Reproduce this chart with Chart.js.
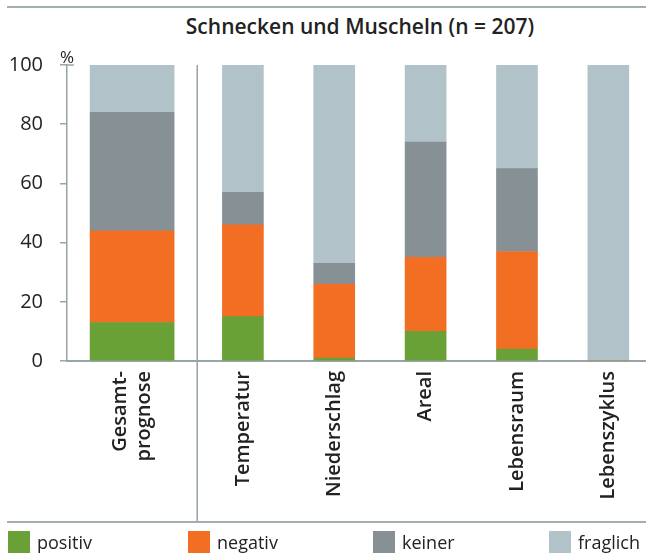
<!DOCTYPE html>
<html>
<head>
<meta charset="utf-8">
<script src="https://cdn.jsdelivr.net/npm/chart.js@4.4.1/dist/chart.umd.min.js"></script>
<style>
  html, body { margin: 0; padding: 0; background: #fff; overflow: hidden; }
  body { width: 646px; height: 556px; position: relative; font-family: "Open Sans", sans-serif; color: #222; }
  #wrap { position: absolute; left: 0; top: 0; width: 654px; height: 556px; }
  .rule { position: absolute; left: 7px; width: 639px; height: 2px; background: #a3aeb2; }
  #title { position: absolute; top: 16px; left: 74px; width: 572px; line-height: 20px; text-align: center; font-size: 21px; font-weight: 600; }
  .legend-item { position: absolute; top: 531px; height: 22px; line-height: 22px; font-size: 18px; display: flex; align-items: center; }
  .legend-item i { display: inline-block; width: 22px; height: 22px; margin-right: 7px; }
</style>
</head>
<body>
<div class="rule" style="top:6px"></div>
<div id="title">Schnecken und Muscheln (n = 207)</div>
<div id="wrap"><canvas id="chart" width="654" height="556"></canvas></div>
<div class="rule" style="top:521px"></div>
<div id="legend"></div>

<script>
// first entry is the Gesamtprognose, the rest are the single factors
const overallLabels = [['Gesamt-', 'prognose']];
const factorLabels = ['Temperatur', 'Niederschlag', 'Areal', 'Lebensraum', 'Lebenszyklus'];

const positiv  = [13, 15, 1, 10, 4, 0];
const negativ  = [31, 31, 25, 25, 33, 0];
const keiner   = [40, 11, 7, 39, 28, 0];
const fraglich = [16, 43, 67, 26, 35, 100];

const yTicks = [0, 20, 40, 60, 80, 100];

const seriesNames = ['positiv', 'negativ', 'keiner', 'fraglich'];
const seriesColors = ['#69a136', '#f26e23', '#869095', '#b1c3c8'];
const axisColor = '#98a4a8';

const seriesValues = [positiv, negativ, keiner, fraglich];

// each series is split: one bar on the overall axis, five on the factor axis
const datasets = [];
seriesValues.forEach((values, i) => {
    datasets.push({
        label: seriesNames[i],
        data: values.slice(0, 1),
        backgroundColor: seriesColors[i],
        xAxisID: 'xG',
        grouped: false,
        barThickness: 84
    });
    datasets.push({
        label: seriesNames[i],
        data: values.slice(1),
        backgroundColor: seriesColors[i],
        xAxisID: 'xR',
        grouped: false,
        barThickness: 41
    });
});

const tickFont = { family: 'Open Sans', size: 20, weight: '600' };

function xScale(labels, weight, labelOffset) {
    return {
        type: 'category',
        labels: labels,
        position: 'bottom',
        stack: 'x',
        stackWeight: weight,
        stacked: true,
        grid: { display: false, drawTicks: false },
        border: { display: true, color: axisColor, width: 2 },
        ticks: {
            autoSkip: false,
            minRotation: 90,
            maxRotation: 90,
            padding: 10,
            labelOffset: labelOffset,
            color: '#222',
            font: tickFont
        },
        afterFit(scale) {
            scale.height = 195;
            scale.paddingLeft = 0;
            scale.paddingRight = 0;
        }
    };
}

// divider between overall and factors, T-cap at 100 and the unit
const extras = {
    id: 'extras',
    afterDraw(chart) {
        const { ctx, scales } = chart;
        const top = scales.y.getPixelForValue(yTicks[yTicks.length - 1]);
        const x0 = scales.y.right;
        ctx.save();
        ctx.strokeStyle = axisColor;
        ctx.lineWidth = 1.5;
        ctx.beginPath();
        ctx.moveTo(scales.xG.right, top);
        ctx.lineTo(scales.xG.right, 522);
        ctx.stroke();
        ctx.beginPath();
        ctx.moveTo(x0, top);
        ctx.lineTo(x0 + 7, top);
        ctx.stroke();
        ctx.fillStyle = '#222';
        ctx.font = '17px "Open Sans"';
        ctx.textAlign = 'center';
        ctx.fillText('%', x0, top - 2);
        ctx.restore();
    }
};

new Chart(document.getElementById('chart'), {
    type: 'bar',
    data: { datasets: datasets },
    options: {
        responsive: false,
        animation: false,
        devicePixelRatio: 1,
        layout: { padding: { top: 65, left: 0, right: 0, bottom: 0 } },
        plugins: {
            legend: { display: false },
            tooltip: { enabled: false }
        },
        scales: {
            xG: xScale(overallLabels, 130, -12),
            xR: xScale(factorLabels, 456, 0),
            y: {
                stacked: true,
                min: 0,
                max: 100,
                afterBuildTicks(scale) { scale.ticks = yTicks.map(v => ({ value: v })); },
                ticks: {
                    padding: 17,
                    color: '#222',
                    font: { family: 'Open Sans', size: 20 }
                },
                grid: {
                    display: true,
                    drawOnChartArea: false,
                    drawTicks: true,
                    tickLength: 7,
                    color: axisColor,
                    lineWidth: 1.5
                },
                border: { display: true, color: axisColor, width: 1.5 },
                afterFit(scale) { scale.width = 67; }
            }
        }
    },
    plugins: [extras]
});

// legend below the bottom rule
const legendX = [8, 188, 373, 549];
const legend = document.getElementById('legend');
seriesNames.forEach((name, i) => {
    const item = document.createElement('div');
    item.className = 'legend-item';
    item.style.left = legendX[i] + 'px';
    item.innerHTML = '<i style="background:' + seriesColors[i] + '"></i>' + name;
    legend.appendChild(item);
});
</script>
</body>
</html>
